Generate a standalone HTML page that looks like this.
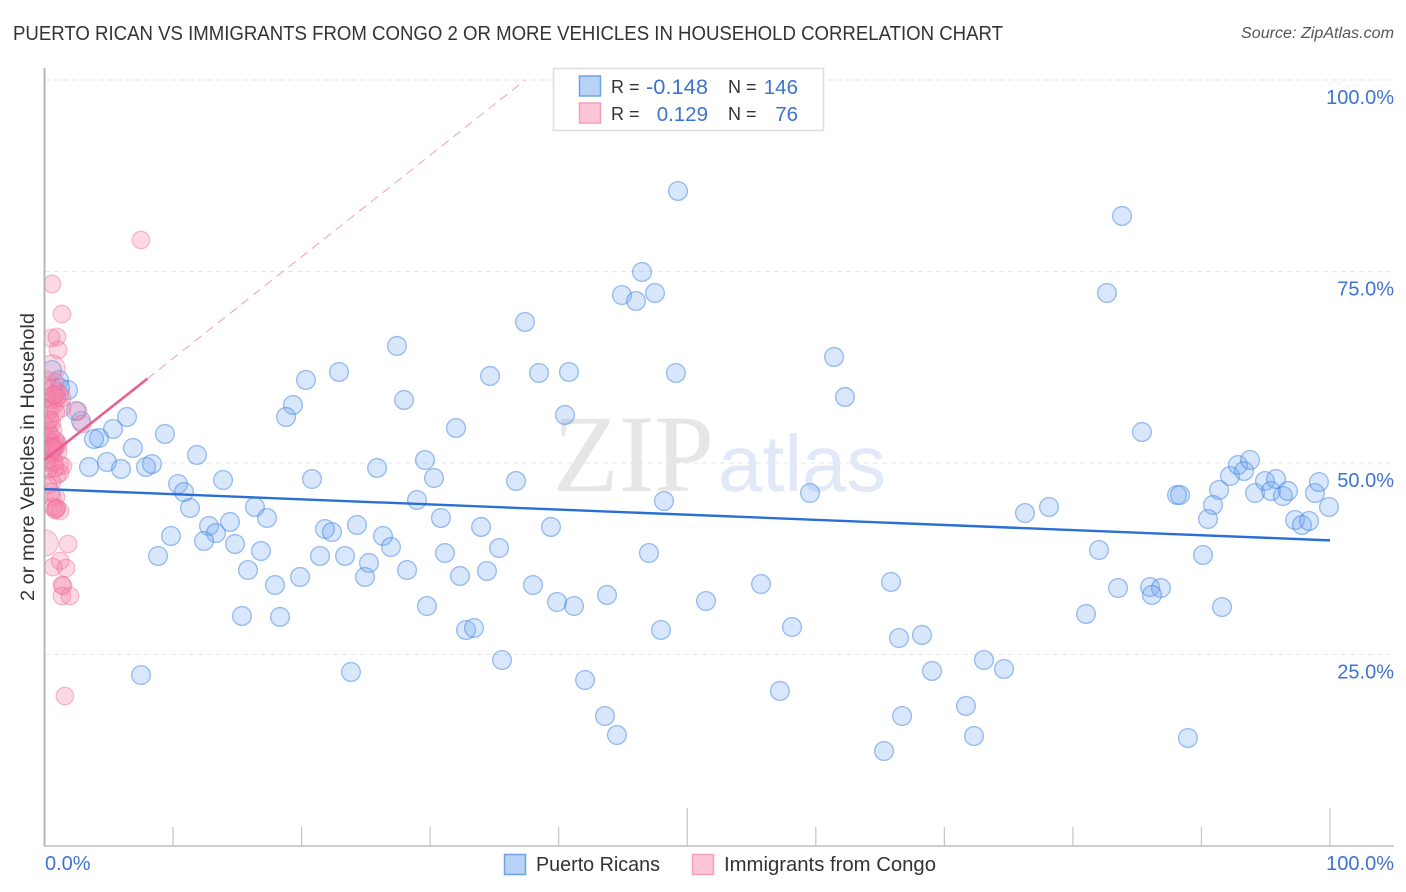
<!DOCTYPE html>
<html lang="en">
<head>
<meta charset="utf-8">
<title>Puerto Rican vs Immigrants from Congo Correlation Chart</title>
<style>
html,body{margin:0;padding:0;background:#fff;}
svg{display:block;font-family:"Liberation Sans",sans-serif;}
</style>
</head>
<body>
<svg id="chart" xmlns="http://www.w3.org/2000/svg" width="1406" height="892" viewBox="0 0 1406 892">
<defs><clipPath id="plot-clip"><rect x="45" y="60" width="1349" height="786"/></clipPath></defs>
<rect x="0" y="0" width="1406" height="892" fill="#fff"/>
<text x="13" y="40" font-size="20" fill="#333" textLength="990" lengthAdjust="spacingAndGlyphs">PUERTO RICAN VS IMMIGRANTS FROM CONGO 2 OR MORE VEHICLES IN HOUSEHOLD CORRELATION CHART</text>
<text x="1394" y="38" font-size="15.5" font-style="italic" fill="#555" text-anchor="end" textLength="153" lengthAdjust="spacingAndGlyphs">Source: ZipAtlas.com</text>
<g>
<text x="553" y="491" font-size="110" font-family="'Liberation Serif',serif" fill="#e6e6e6" textLength="161" lengthAdjust="spacingAndGlyphs">ZIP</text>
<text x="718" y="491" font-size="80" fill="#e1e9f9" textLength="168" lengthAdjust="spacingAndGlyphs">atlas</text>
</g>
<g id="grid"></g>
<g id="axes"></g>
<g id="blue-points" clip-path="url(#plot-clip)"></g>
<g id="pink-points" clip-path="url(#plot-clip)"></g>
<g id="trends"></g>
<text transform="translate(34,457) rotate(-90)" font-size="19.5" fill="#333" text-anchor="middle" textLength="288" lengthAdjust="spacingAndGlyphs">2 or more Vehicles in Household</text>
<g>
<rect x="553.5" y="68.5" width="270" height="62" fill="#fff" stroke="#dedede" stroke-width="1.5"/>
<rect x="579.5" y="76" width="21" height="20" fill="#b9d3f7" stroke="#6fa3e6" stroke-width="1.5"/>
<rect x="579.5" y="103" width="21" height="20" fill="#fac6d8" stroke="#f3a0bc" stroke-width="1.5"/>
<text x="611" y="93" font-size="18" fill="#333">R =</text>
<text x="708" y="94" font-size="21" fill="#3f73d0" text-anchor="end" textLength="62" lengthAdjust="spacingAndGlyphs">-0.148</text>
<text x="728" y="93" font-size="18" fill="#333">N =</text>
<text x="798" y="94" font-size="20.5" fill="#3f73d0" text-anchor="end">146</text>
<text x="611" y="120" font-size="18" fill="#333">R =</text>
<text x="708" y="121" font-size="20.5" fill="#3f73d0" text-anchor="end">0.129</text>
<text x="728" y="120" font-size="18" fill="#333">N =</text>
<text x="798" y="121" font-size="20.5" fill="#3f73d0" text-anchor="end">76</text>
</g>
<g>
<rect x="504.5" y="854.5" width="21" height="20" fill="#b9d3f7" stroke="#6fa3e6" stroke-width="1.5"/>
<text x="536" y="871" font-size="20" fill="#333" textLength="124" lengthAdjust="spacingAndGlyphs">Puerto Ricans</text>
<rect x="692.5" y="854.5" width="21" height="20" fill="#fac6d8" stroke="#f3a0bc" stroke-width="1.5"/>
<text x="724" y="871" font-size="20" fill="#333" textLength="212" lengthAdjust="spacingAndGlyphs">Immigrants from Congo</text>
</g>
</svg>
<script>
const blueX = [49.28,83.82,46.48,44.92,46.01,47.49,82.65,37.38,27.42,61.42,22.91,20.34,34.66,38.47,40.80,49.12,62.27,27.97,19.33,18.79,40.49,6.42,32.01,85.37,9.37,11.86,6.88,5.33,4.24,3.85,2.84,2.45,1.13,0.58,1.83,1.21,3.46,4.86,5.95,7.90,8.36,25.87,29.60,30.30,20.81,13.89,36.68,10.39,10.85,11.32,28.98,48.19,59.55,88.10,88.33,91.37,92.22,92.84,93.31,93.78,94.17,94.94,95.41,95.80,96.34,96.73,98.83,99.14,99.92,97.28,97.82,98.37,90.90,90.51,76.27,78.14,16.37,17.31,14.43,12.80,13.34,12.41,14.82,30.84,24.31,21.82,22.36,33.96,39.40,26.33,26.95,16.84,9.84,8.83,21.43,23.38,25.24,31.15,35.36,47.02,82.03,90.12,15.83,28.20,34.42,17.93,19.88,24.93,32.32,38.00,55.74,65.85,83.51,86.00,86.85,86.15,43.76,39.87,41.19,51.46,29.75,91.60,15.36,18.32,81.02,32.79,33.41,47.96,58.15,66.47,68.26,35.59,73.08,74.64,23.84,69.04,7.51,42.05,57.21,71.68,43.60,66.71,44.53,72.31,88.95,65.31];
const blueY = [85.51,82.25,74.94,71.93,71.15,72.19,72.19,68.41,65.28,63.84,61.88,60.84,61.36,61.75,61.88,61.75,58.62,58.23,57.57,56.01,56.27,56.01,54.57,54.05,53.79,51.05,51.96,54.44,53.26,53.13,55.48,56.79,60.84,62.14,59.53,59.79,49.48,50.13,49.22,49.48,49.87,49.35,50.39,48.04,47.91,47.78,47.65,47.26,46.21,44.13,45.17,45.04,46.08,45.82,45.82,46.48,48.30,49.74,48.96,50.39,46.08,47.65,46.35,47.91,45.69,46.35,46.08,47.52,44.26,42.56,41.91,42.43,44.52,42.69,43.47,44.26,44.26,42.82,42.30,41.78,40.86,39.82,39.43,42.82,41.91,41.38,40.99,41.65,41.65,40.47,39.03,38.51,40.47,37.86,37.86,37.86,36.95,38.25,38.90,38.25,38.64,37.99,36.03,36.03,35.90,34.07,35.12,35.12,35.25,34.07,34.20,34.47,33.68,33.81,33.68,32.77,32.77,31.85,31.33,31.98,31.33,31.20,30.03,29.90,30.29,28.20,28.46,28.20,28.59,27.15,27.55,24.28,24.28,23.11,22.72,22.85,22.32,21.67,20.24,18.28,16.97,16.97,14.49,14.36,14.10,12.40];
const pinkX = [7.51,0.58,1.36,0.51,0.97,1.05,0.82,0.19,0.66,0.97,1.21,0.58,1.36,0.27,2.61,0.58,0.27,2.92,0.43,0.82,0.97,0.58,0.43,0.82,0.19,1.21,1.44,0.43,0.97,1.21,0.27,0.58,0.27,0.89,0.58,0.97,0.82,1.21,0.66,1.83,1.21,0.66,1.67,1.36,1.44,1.36,1.98,1.59,0.27,0.12,0.43,0.66,0.74,0.43,0.19,0.82,0.51,0.82,0.74,0.97,0.66,0.19,1.36,0.43,0.89,0.43,1.05,0.58,0.19,0.74,1.05,0.7,0.9,0.8];
const pinkY = [79.11,73.37,69.45,66.32,66.45,64.75,60.58,60.84,58.88,59.27,59.01,58.23,57.18,57.18,56.79,55.22,55.35,55.09,53.00,52.35,52.74,51.44,51.05,52.09,53.26,49.74,49.61,50.00,48.43,48.69,49.09,47.52,47.13,45.56,45.56,44.13,43.87,43.73,44.26,39.43,37.21,36.42,36.29,34.07,33.94,32.64,32.64,19.58,54.31,54.70,53.66,54.31,51.70,51.96,51.70,49.35,46.21,53.00,57.57,58.49,59.79,58.49,58.49,56.92,56.66,55.61,52.35,52.09,50.39,50.13,51.44,51.9,44.0,58.9];
const pinkWideX = [0.58,0.04];
const pinkWideY = [62.40,39.56];
const blueTrendX = [0,100];
const blueTrendY = [46.6,39.9];
const pinkTrendSolidX = [0,8];
const pinkTrendSolidY = [50.4,61];
const pinkTrendDashX = [8,37.4];
const pinkTrendDashY = [61,100];
const gridValues = [100,75,50,25];
const yTickLabels = ["100.0%","75.0%","50.0%","25.0%"];
const xTickValues = [10,20,30,40,50,60,70,80,90,100];
const xEndLabels = ["0.0%","100.0%"];

const NS = "http://www.w3.org/2000/svg";
const xScale = v => 44.5 + v * 12.855;
const yScale = v => 846 - v * 7.66;
function make(tag, parent, attrs) {
  const el = document.createElementNS(NS, tag);
  for (const k in attrs) el.setAttribute(k, attrs[k]);
  parent.appendChild(el);
  return el;
}
const grid = document.getElementById("grid");
const axes = document.getElementById("axes");
gridValues.forEach((v, i) => {
  const line = make("line", grid, {x1: 45, x2: 1394, y1: yScale(v), y2: yScale(v), stroke: "#e6e6e6", "stroke-width": 1, "stroke-dasharray": "5 4"});
  
  
  const label = make("text", axes, {x: 1394, y: yScale(v) + 24, "font-size": 20, fill: "#3f73d0", "text-anchor": "end"});
  label.textContent = yTickLabels[i];
  
  
});
const yAxis = make("line", axes, {x1: 44.5, x2: 44.5, y1: 68, y2: 846, stroke: "#b0b0b0", "stroke-width": 1.8});


const xAxis = make("line", axes, {x1: 44, x2: 1394, y1: 846, y2: 846, stroke: "#bdbdbd", "stroke-width": 1.5});


xTickValues.forEach(v => {
  const tall = v % 50 === 0;
  const tick = make("line", axes, {x1: xScale(v), x2: xScale(v), y1: tall ? 808 : 827, y2: 846, stroke: "#c4c4c4", "stroke-width": 1.2});
  
  
});
const xStart = make("text", axes, {x: 45, y: 870, "font-size": 20, fill: "#3f73d0"});
xStart.textContent = xEndLabels[0];


const xEnd = make("text", axes, {x: 1394, y: 870, "font-size": 20, fill: "#3f73d0", "text-anchor": "end"});
xEnd.textContent = xEndLabels[1];



const blueGroup = document.getElementById("blue-points");
blueX.forEach((v, i) => {
  const c = make("circle", blueGroup, {cx: xScale(v), cy: yScale(blueY[i]), r: 9.4, fill: "rgba(110,165,240,0.27)", stroke: "rgba(60,130,225,0.5)", "stroke-width": 1.3});
  
  
});
const pinkGroup = document.getElementById("pink-points");
pinkX.forEach((v, i) => {
  const c = make("circle", pinkGroup, {cx: xScale(v), cy: yScale(pinkY[i]), r: 8.8, fill: "rgba(245,130,170,0.32)", stroke: "rgba(235,100,145,0.42)", "stroke-width": 1.2});
  
  
});
pinkWideX.forEach((v, i) => {
  const c = make("circle", pinkGroup, {cx: xScale(v), cy: yScale(pinkWideY[i]), r: 13, fill: "rgba(245,130,170,0.28)", stroke: "rgba(235,100,145,0.4)", "stroke-width": 1.2});
  
  
});
const trends = document.getElementById("trends");
const blueTrend = make("line", trends, {x1: xScale(blueTrendX[0]), y1: yScale(blueTrendY[0]), x2: xScale(blueTrendX[1]), y2: yScale(blueTrendY[1]), stroke: "#2a6fd4", "stroke-width": 2.4});


const pinkSolid = make("line", trends, {x1: xScale(pinkTrendSolidX[0]), y1: yScale(pinkTrendSolidY[0]), x2: xScale(pinkTrendSolidX[1]), y2: yScale(pinkTrendSolidY[1]), stroke: "#e8608f", "stroke-width": 2.6});


const pinkDash = make("line", trends, {x1: xScale(pinkTrendDashX[0]), y1: yScale(pinkTrendDashY[0]), x2: xScale(pinkTrendDashX[1]), y2: yScale(pinkTrendDashY[1]), stroke: "#efa0ba", "stroke-width": 1, "stroke-dasharray": "9 6"});


</script>
</body>
</html>
